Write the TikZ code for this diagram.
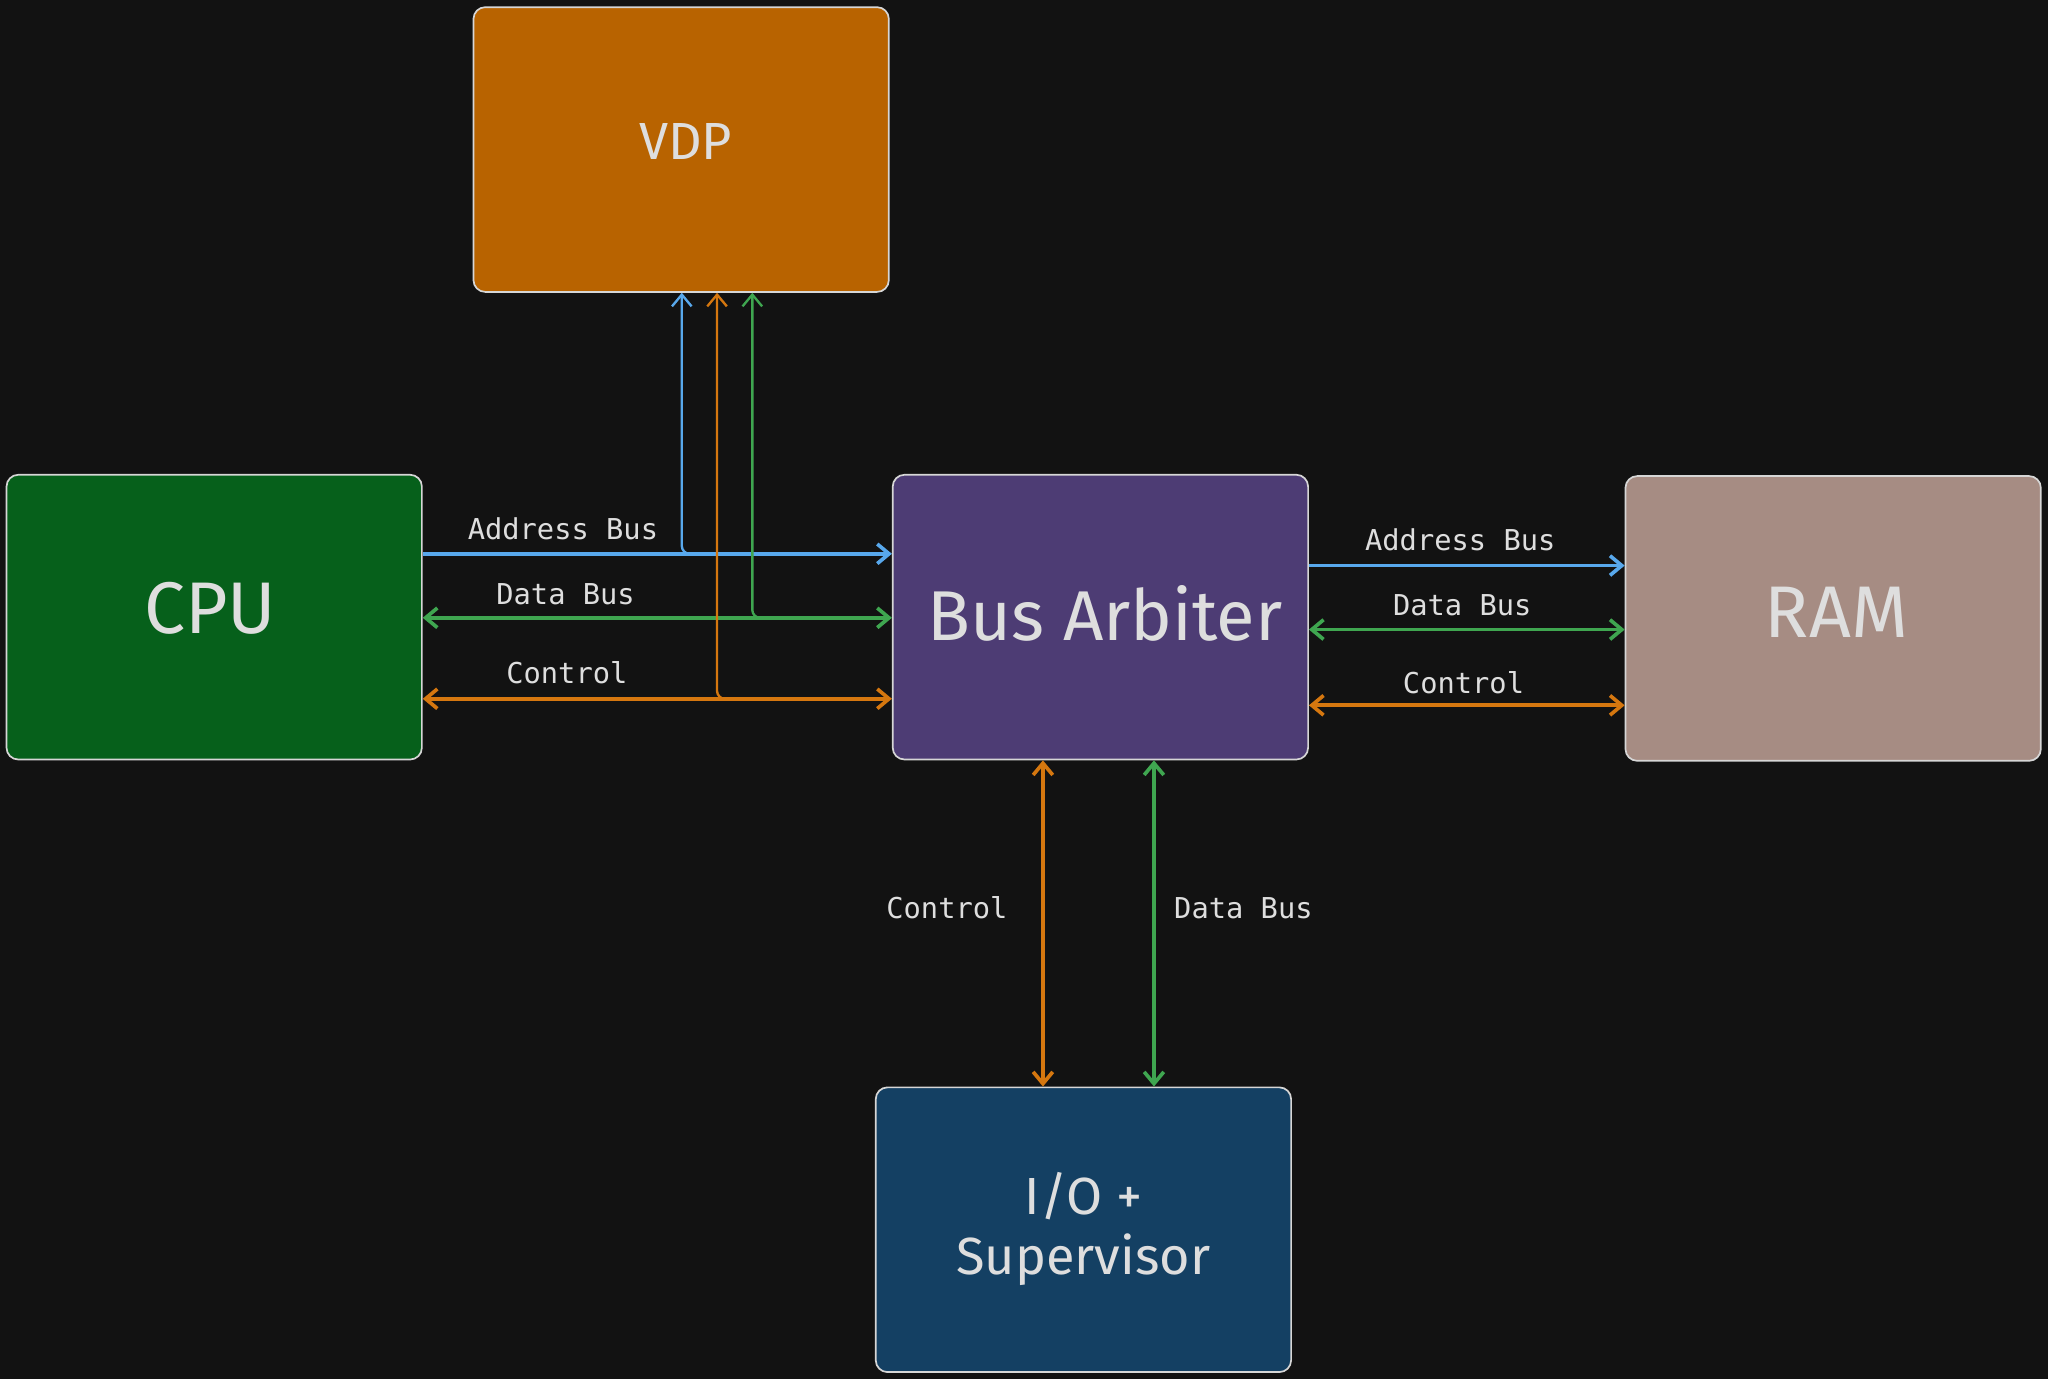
\documentclass[tikz,border=0pt]{standalone}
\usepackage{fontspec}
\setmainfont{Fira Sans}
\newfontfamily\monofont{DejaVu Sans Mono}
\usetikzlibrary{arrows.meta}
\definecolor{bgc}{HTML}{121212}
\definecolor{vdpc}{HTML}{B86300}
\definecolor{cpuc}{HTML}{06601B}
\definecolor{arbc}{HTML}{4D3C74}
\definecolor{ramc}{HTML}{A68C83}
\definecolor{ioc}{HTML}{144063}
\definecolor{edgec}{HTML}{D6D6D6}
\definecolor{txtc}{HTML}{DEDEDE}
\definecolor{bluec}{HTML}{58A8EC}
\definecolor{greenc}{HTML}{3FA650}
\definecolor{orangec}{HTML}{D5770F}
\tikzset{
  box/.style={draw=edgec, line width=1.3pt, rounded corners=9pt, minimum width=318pt, minimum height=218pt, inner sep=0pt},
  boxtxt/.style={text=txtc, inner sep=0pt, align=center},
  bigtxt/.style={font=\fontsize{56}{60}\selectfont},
  smalltxt/.style={font=\fontsize{40}{46}\selectfont},
  lbl/.style={text=txtc, font=\monofont\fontsize{22}{26}\selectfont, inner sep=0pt},
  busline/.style={line width=2.8pt},
  branch/.style={line width=1.8pt, rounded corners=6pt},
}
\begin{document}
\begin{tikzpicture}[x=1pt,y=-1pt, >={Straight Barb[length=9pt,width=15pt]}]
\fill[bgc] (0,0) rectangle (1568,1056);
\useasboundingbox (0,0) rectangle (1568,1056);

% boxes
\node[box, fill=vdpc] (vdp) at (521.5,114.5) {};
\node[box, fill=cpuc] (cpu) at (164,472.5) {};
\node[box, fill=arbc] (arb) at (842.5,472.5) {};
\node[box, fill=ramc] (ram) at (1403.5,473.5) {};
\node[box, fill=ioc] (io) at (829.5,941.5) {};

% box texts
\node[boxtxt, smalltxt] (vdpt) at (525,108) {VDP};
\node[boxtxt, bigtxt] (cput) at (161,466) {CPU};
\node[boxtxt, font=\fontsize{54}{60}\selectfont] (arbt) at (846,470) {Bus Arbiter};
\node[boxtxt, bigtxt] (ramt) at (1406,469) {RAM};
\node[boxtxt, smalltxt] (iot) at (829.5,941) {I/O +\\Supervisor};

% level coordinates
\coordinate (la) at (0,424);
\coordinate (ld) at (0,473);
\coordinate (lc) at (0,535);
\coordinate (ra) at (0,433);
\coordinate (rd) at (0,482);
\coordinate (rc) at (0,540);
\coordinate (xb) at (522,0);
\coordinate (xo) at (549,0);
\coordinate (xg) at (576,0);
\coordinate (bo) at (798.5,0);
\coordinate (bg) at (883.5,0);

% CPU <-> Arbiter
\draw[bluec, busline, ->] (cpu.east |- la) -- (arb.west |- la);
\draw[greenc, busline, <->] (cpu.east |- ld) -- (arb.west |- ld);
\draw[orangec, busline, <->] (cpu.east |- lc) -- (arb.west |- lc);

% branches to VDP
\draw[bluec, branch, ->] (xb |- la) ++(12,0) -| (vdp.south -| xb);
\draw[greenc, branch, ->] (xg |- ld) ++(12,0) -| (vdp.south -| xg);
\draw[orangec, branch, ->] (xo |- lc) ++(10,0) -| (vdp.south -| xo);

% Arbiter <-> RAM
\draw[bluec, busline, ->] (arb.east |- ra) -- (ram.west |- ra);
\draw[greenc, busline, <->] (arb.east |- rd) -- (ram.west |- rd);
\draw[orangec, busline, <->] (arb.east |- rc) -- (ram.west |- rc);

% Arbiter <-> I/O
\draw[orangec, busline, <->] (arb.south -| bo) -- (io.north -| bo);
\draw[greenc, busline, <->] (arb.south -| bg) -- (io.north -| bg);

% labels
\node[lbl] (l1) at (431,405) {Address Bus};
\node[lbl] (l2) at (433,455) {Data Bus};
\node[lbl] (l3) at (434,515) {Control};
\node[lbl] (r1) at (1118,413) {Address Bus};
\node[lbl] (r2) at (1119.5,463) {Data Bus};
\node[lbl] (r3) at (1120.5,523) {Control};
\node[lbl] (b1) at (725,695) {Control};
\node[lbl] (b2) at (952,695) {Data Bus};
\end{tikzpicture}
\end{document}
